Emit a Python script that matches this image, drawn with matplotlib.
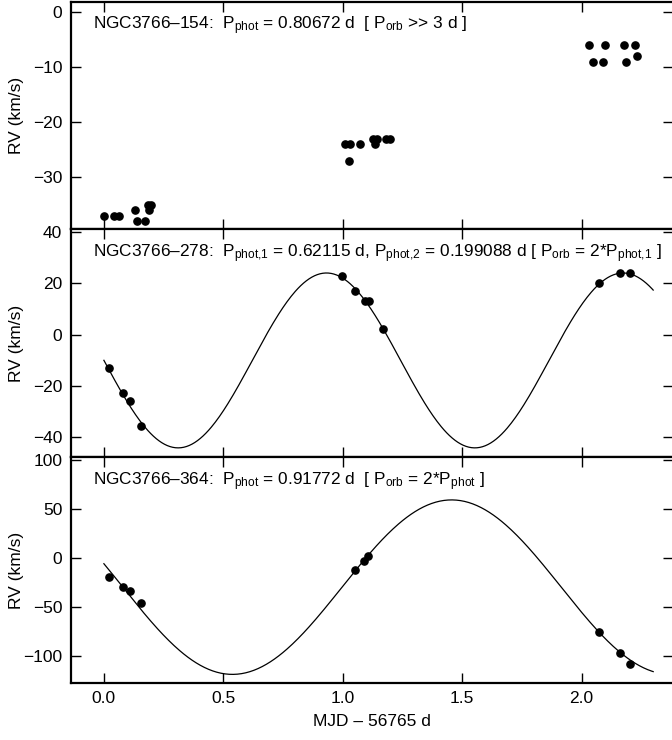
import matplotlib
matplotlib.use('Agg')
import matplotlib.pyplot as plt
import numpy as np

plt.rcParams['font.family'] = ['Liberation Sans', 'DejaVu Sans']
plt.rcParams['mathtext.fontset'] = 'custom'
plt.rcParams['mathtext.rm'] = 'Liberation Sans'
plt.rcParams['mathtext.default'] = 'regular'

# NGC3766-154
t154 = [0.0, 0.042, 0.064, 0.130, 0.137, 0.172, 0.183, 0.197, 0.188,
        1.009, 1.030, 1.072, 1.026, 1.128, 1.135, 1.142, 1.183, 1.197,
        2.032, 2.099, 2.178, 2.223, 2.046, 2.088, 2.188, 2.233]
rv154 = [-37, -37, -37, -36, -38, -38, -35, -35, -36,
         -24, -24, -24, -27, -23, -24, -23, -23, -23,
         -6, -6, -6, -6, -9, -9, -9, -8]

# NGC3766-278
t278 = [0.021, 0.081, 0.109, 0.154, 0.995, 1.051, 1.093, 1.111, 1.167,
        2.072, 2.160, 2.205]
rv278 = [-13, -23, -26, -36, 23, 17, 13, 13, 2, 20, 24, 24]

# NGC3766-364
t364 = [0.021, 0.081, 0.109, 0.154, 1.051, 1.090, 1.107, 2.072, 2.160, 2.205]
rv364 = [-20, -30, -34, -46, -13, -3, 2, -76, -97, -108]

# sine fits: P_orb, K, gamma, time of maximum
fit278 = dict(P=2 * 0.62115, K=34.25, gamma=-10.15, tmax=0.932)
fit364 = dict(P=2 * 0.91772, K=88.9, gamma=-30.0, tmax=1.456)
tfit = np.linspace(0.0, 2.30, 400)

labels = [
    'NGC3766\u2013154:  P$_{phot}$ = 0.80672 d  [ P$_{orb}$ >> 3 d ]',
    'NGC3766\u2013278:  P$_{phot{,}1}$ = 0.62115 d, P$_{phot{,}2}$ = 0.199088 d [ P$_{orb}$ = 2*P$_{phot{,}1}$ ]',
    'NGC3766\u2013364:  P$_{phot}$ = 0.91772 d  [ P$_{orb}$ = 2*P$_{phot}$ ]',
]

fig = plt.figure(figsize=(6.72, 7.4), dpi=100)
left, width = 0.1052, 0.8963
ax1 = fig.add_axes([left, 0.6901, width, 0.3072])
ax2 = fig.add_axes([left, 0.3820, width, 0.3081])
ax3 = fig.add_axes([left, 0.0774, width, 0.3046])
axes = [ax1, ax2, ax3]

ax1.plot(t154, rv154, 'o', color='black', ms=5.2)
ax2.plot(t278, rv278, 'o', color='black', ms=5.2)
ax3.plot(t364, rv364, 'o', color='black', ms=5.2)

for ax, f in [(ax2, fit278), (ax3, fit364)]:
    ax.plot(tfit, f['gamma'] + f['K'] * np.cos(2 * np.pi * (tfit - f['tmax']) / f['P']),
            color='black', lw=0.9)

ax1.set_ylim(-39.45, 1.87)
ax2.set_ylim(-48.1, 41.2)
ax3.set_ylim(-127.4, 102.3)
ax1.set_yticks([0, -10, -20, -30])
ax2.set_yticks([40, 20, 0, -20, -40])
ax3.set_yticks([100, 50, 0, -50, -100])

for ax, lab in zip(axes, labels):
    ax.set_xlim(-0.139, 2.383)
    ax.set_xticks([0, 0.5, 1.0, 1.5, 2.0])
    ax.tick_params(direction='in', top=True, right=True, length=7, width=1,
                   labelsize=12.5, pad=6)
    for s in ax.spines.values():
        s.set_linewidth(1.6)
    ax.set_ylabel('RV (km/s)', fontsize=12.5)
    ax.yaxis.set_label_coords(-0.078, 0.5)
    ax.text(0.0375, 0.878, lab, transform=ax.transAxes, fontsize=12.4,
            va='baseline', ha='left')

ax1.tick_params(labelbottom=False)
ax2.tick_params(labelbottom=False)
ax3.set_xlabel('MJD \u2013 56765 d', fontsize=12.5, labelpad=6)

fig.savefig('out.png', dpi=100)
